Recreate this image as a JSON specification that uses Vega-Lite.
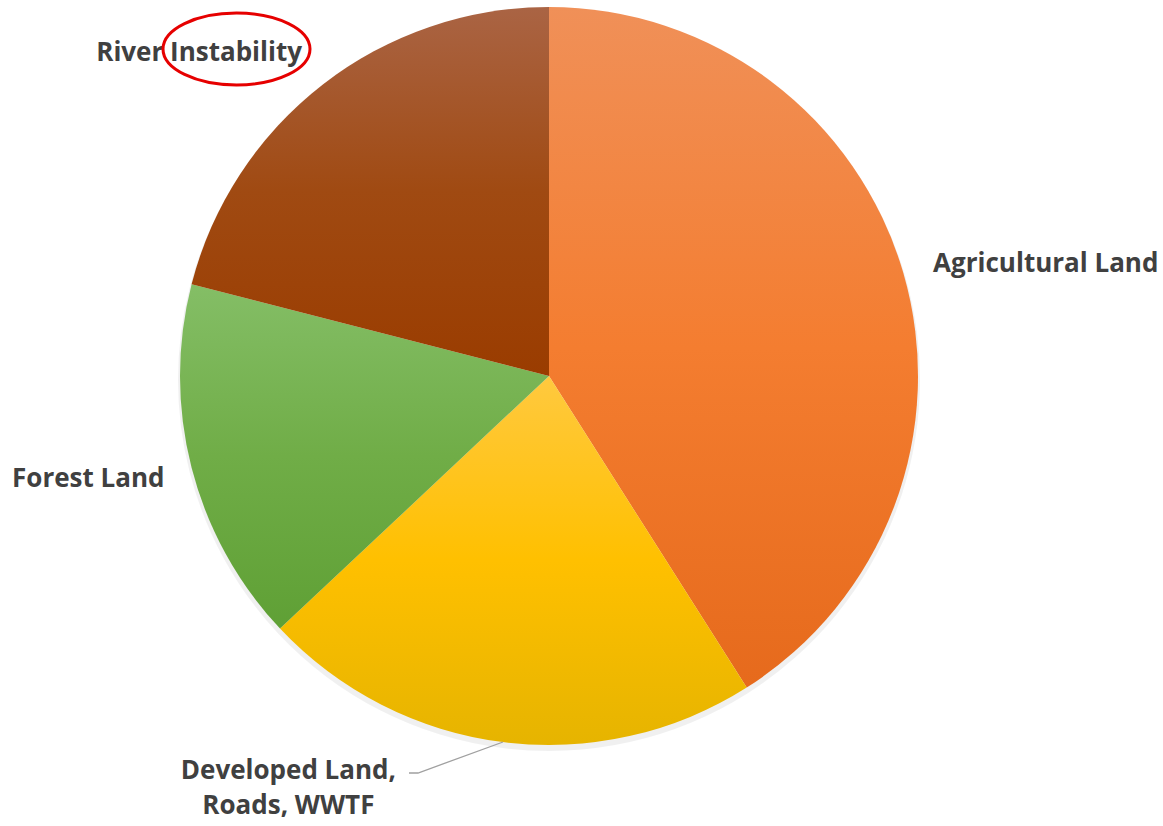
{
  "$schema": "https://vega.github.io/schema/vega-lite/v6.json",
  "width": 1098,
  "height": 752,
  "autosize": {"type": "none"},
  "padding": {"left": 0, "top": 0, "right": 65, "bottom": 74},
  "background": "#ffffff",
  "config": {"view": {"stroke": null}},
  "data": {
    "values": [
      {"category": "Agricultural Land", "share": 41},
      {"category": "Developed Land,\nRoads, WWTF", "share": 22},
      {"category": "Forest Land", "share": 16},
      {"category": "River Instability", "share": 21}
    ]
  },
  "transform": [
    {"stack": "share", "groupby": [], "as": ["s0", "s1"]},
    {"calculate": "(datum.s0 + datum.s1) / 2", "as": "mid"}
  ],
  "layer": [
    {
      "mark": {"type": "arc", "radius": 371, "fill": "#000000", "opacity": 0.06, "yOffset": 4},
      "encoding": {
        "theta": {"field": "s0", "type": "quantitative", "stack": null, "scale": {"domain": [0, 100]}},
        "theta2": {"field": "s1"}
      }
    },
    {
      "mark": {"type": "arc", "radius": 369, "strokeWidth": 0},
      "encoding": {
        "theta": {"field": "s0", "type": "quantitative", "stack": null, "scale": {"domain": [0, 100]}},
        "theta2": {"field": "s1"},
        "fill": {
          "condition": [
            {"test": "datum.category === 'Agricultural Land'", "value": {"gradient": "linear", "x1": 0, "y1": 0, "x2": 0, "y2": 1, "stops": [{"offset": 0, "color": "#F09058"}, {"offset": 0.5, "color": "#F47D30"}, {"offset": 1, "color": "#E66A1C"}]}},
            {"test": "datum.category === 'Forest Land'", "value": {"gradient": "linear", "x1": 0, "y1": 0, "x2": 0, "y2": 1, "stops": [{"offset": 0, "color": "#84BE66"}, {"offset": 0.5, "color": "#70AD47"}, {"offset": 1, "color": "#5FA035"}]}},
            {"test": "datum.category === 'River Instability'", "value": {"gradient": "linear", "x1": 0, "y1": 0, "x2": 0, "y2": 1, "stops": [{"offset": 0, "color": "#AA6444"}, {"offset": 0.5, "color": "#A04A12"}, {"offset": 1, "color": "#9A3C00"}]}}
          ],
          "value": {"gradient": "linear", "x1": 0, "y1": 0, "x2": 0, "y2": 1, "stops": [{"offset": 0, "color": "#FFC93F"}, {"offset": 0.5, "color": "#FFC000"}, {"offset": 1, "color": "#E6B400"}]}
        }
      }
    },
    {
      "transform": [{"filter": "datum.category === 'Agricultural Land'"}],
      "mark": {"type": "text", "radius": 400, "align": "left", "baseline": "middle", "font": "Open Sans", "fontWeight": "bold", "fontSize": 26, "fill": "#404040"},
      "encoding": {
        "theta": {"field": "mid", "type": "quantitative", "stack": null, "scale": {"domain": [0, 100]}},
        "text": {"field": "category"}
      }
    },
    {
      "transform": [{"filter": "datum.category === 'Forest Land'"}],
      "mark": {"type": "text", "radius": 397, "align": "right", "baseline": "middle", "dy": 4, "font": "Open Sans", "fontWeight": "bold", "fontSize": 26, "fill": "#404040"},
      "encoding": {
        "theta": {"field": "mid", "type": "quantitative", "stack": null, "scale": {"domain": [0, 100]}},
        "text": {"field": "category"}
      }
    },
    {
      "transform": [{"filter": "datum.category === 'River Instability'"}],
      "mark": {"type": "text", "radius": 403, "align": "right", "baseline": "middle", "dy": -5, "font": "Open Sans", "fontWeight": "bold", "fontSize": 26, "fill": "#404040"},
      "encoding": {
        "theta": {"field": "mid", "type": "quantitative", "stack": null, "scale": {"domain": [0, 100]}},
        "text": {"field": "category"}
      }
    },
    {
      "transform": [{"filter": "indexof(datum.category, 'Developed') === 0"}],
      "mark": {"type": "text", "radius": 420, "align": "center", "baseline": "middle", "dx": -208, "dy": -22, "lineBreak": "\n", "lineHeight": 35, "font": "Open Sans", "fontWeight": "bold", "fontSize": 26, "fill": "#404040"},
      "encoding": {
        "theta": {"field": "mid", "type": "quantitative", "stack": null, "scale": {"domain": [0, 100]}},
        "text": {"field": "category"}
      }
    },
    {
      "transform": [{"filter": "indexof(datum.category, 'Developed') === 0"}],
      "mark": {"type": "point", "shape": "M -140 397 L -131 397 L -46 366", "size": 4, "filled": false, "stroke": "#A0A0A0", "strokeWidth": 1.3, "opacity": 1},
      "encoding": {}
    },
    {
      "transform": [{"filter": "datum.category === 'River Instability'"}],
      "mark": {"type": "point", "shape": "M -386 -327 A 73.5 36 0 1 0 -239 -327 A 73.5 36 0 1 0 -386 -327 Z", "size": 4, "filled": false, "stroke": "#E60000", "strokeWidth": 3, "opacity": 1},
      "encoding": {}
    }
  ]
}
